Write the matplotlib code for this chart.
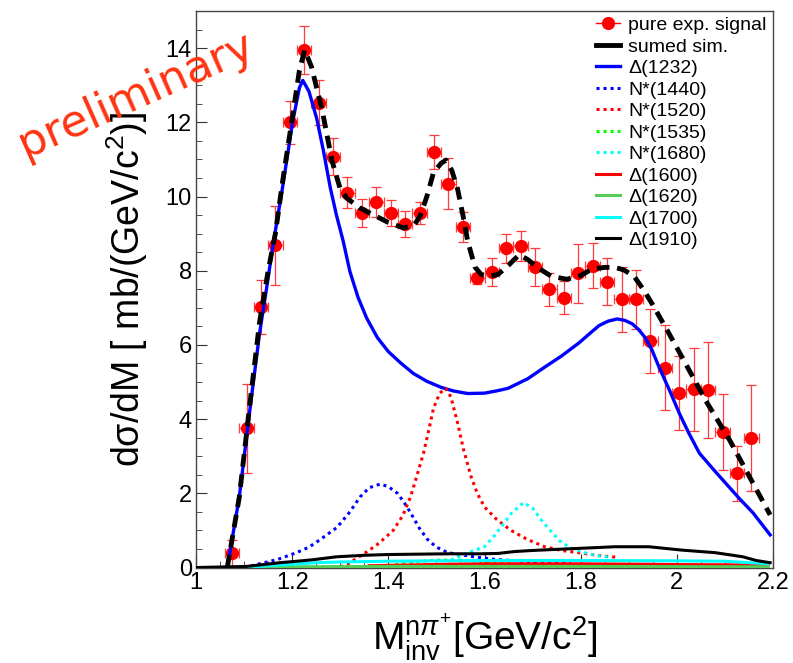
import matplotlib
matplotlib.use("Agg")
import matplotlib.pyplot as plt
from matplotlib.lines import Line2D
from matplotlib.ticker import MultipleLocator

plt.rcParams["font.family"] = ["Liberation Sans", "DejaVu Sans"]
plt.rcParams["mathtext.fontset"] = "custom"
plt.rcParams["mathtext.rm"] = "Liberation Sans"
plt.rcParams["mathtext.it"] = "Liberation Sans:italic"
plt.rcParams["mathtext.bf"] = "Liberation Sans:bold"

# measured n pi+ invariant mass spectrum (bin centres, mb/(GeV/c^2))
mass = [1.075, 1.105, 1.135, 1.165, 1.195, 1.225, 1.255, 1.285, 1.315, 1.345,
        1.375, 1.405, 1.435, 1.465, 1.495, 1.525, 1.555, 1.585, 1.615, 1.645,
        1.675, 1.705, 1.735, 1.765, 1.795, 1.825, 1.855, 1.885, 1.915, 1.945,
        1.975, 2.005, 2.035, 2.065, 2.095, 2.125, 2.155]
xsec = [0.38, 3.75, 7.02, 8.68, 12.0, 13.95, 12.53, 11.07, 10.1, 9.55,
        9.85, 9.55, 9.25, 9.55, 11.2, 10.35, 9.18, 7.8, 7.97, 8.6,
        8.66, 8.1, 7.5, 7.27, 7.93, 8.14, 7.7, 7.23, 7.23, 6.1,
        5.39, 4.7, 4.8, 4.78, 3.65, 2.54, 3.49]
xsec_err = [0.35, 1.2, 0.72, 1.06, 0.58, 0.65, 0.6, 0.5, 0.42, 0.37,
            0.4, 0.35, 0.35, 0.3, 0.45, 0.7, 0.4, 0.15, 0.38, 0.38,
            0.4, 0.5, 0.45, 0.45, 0.8, 0.6, 0.63, 0.88, 0.8, 0.87,
            1.15, 1.0, 1.12, 1.3, 1.02, 0.74, 1.44]
bin_half = 0.015

# summed simulation
sum_m = [1.065, 1.09, 1.111, 1.132, 1.15, 1.165, 1.18, 1.20, 1.215, 1.226,
         1.24, 1.262, 1.283, 1.30, 1.314, 1.34, 1.362, 1.40, 1.432, 1.455,
         1.467, 1.48, 1.494, 1.51, 1.52, 1.532, 1.544, 1.555, 1.565, 1.58,
         1.593, 1.61, 1.628, 1.65, 1.672, 1.69, 1.712, 1.739, 1.771, 1.80,
         1.823, 1.85, 1.871, 1.89, 1.911, 1.93, 1.949, 1.984, 2.018, 2.06,
         2.11, 2.158, 2.194]
sum_y = [0.0, 1.9, 4.3, 6.6, 8.0, 9.0, 10.4, 12.1, 13.4, 13.95,
         13.5, 12.35, 10.95, 10.2, 9.95, 9.7, 9.55, 9.3, 9.15, 9.25,
         9.5, 10.0, 10.65, 10.9, 10.98, 10.7, 10.2, 9.5, 8.8, 8.1,
         7.9, 7.85, 7.9, 8.15, 8.43, 8.3, 8.07, 7.85, 7.77, 7.87,
         8.04, 8.09, 8.09, 8.02, 7.85, 7.5, 7.1, 6.3, 5.5, 4.5,
         3.43, 2.28, 1.42]

# Delta(1232)
d1232_m = [1.065, 1.09, 1.111, 1.132, 1.149, 1.159, 1.18, 1.201, 1.215, 1.222,
           1.235, 1.251, 1.265, 1.279, 1.292, 1.306, 1.32, 1.337, 1.355, 1.377,
           1.40, 1.425, 1.452, 1.48, 1.509, 1.535, 1.565, 1.60, 1.625, 1.649,
           1.69, 1.725, 1.76, 1.796, 1.82, 1.838, 1.857, 1.876, 1.892, 1.907,
           1.92, 1.934, 1.948, 1.963, 1.985, 2.005, 2.025, 2.047, 2.075, 2.101,
           2.13, 2.158, 2.194]
d1232_y = [0.0, 1.9, 4.15, 6.3, 7.72, 8.6, 10.25, 12.02, 12.93, 13.13,
           12.83, 12.1, 11.23, 10.25, 9.5, 8.8, 7.98, 7.28, 6.72, 6.2,
           5.82, 5.52, 5.23, 5.02, 4.86, 4.76, 4.69, 4.7, 4.76, 4.83,
           5.09, 5.4, 5.7, 6.05, 6.32, 6.52, 6.64, 6.7, 6.66, 6.57,
           6.42, 6.2, 5.87, 5.4, 4.77, 4.16, 3.62, 3.08, 2.66, 2.28,
           1.86, 1.48, 0.88]

# N*(1440)
n1440_m = [1.10, 1.126, 1.17, 1.209, 1.235, 1.258, 1.293, 1.32, 1.341, 1.36,
           1.383, 1.40, 1.419, 1.433, 1.446, 1.465, 1.482, 1.50, 1.524, 1.572,
           1.62, 1.70, 1.78]
n1440_y = [0.0, 0.08, 0.22, 0.4, 0.55, 0.75, 1.08, 1.5, 1.9, 2.15,
           2.25, 2.18, 2.0, 1.75, 1.48, 1.05, 0.75, 0.55, 0.4, 0.3,
           0.22, 0.15, 0.1]

# N*(1520)
n1520_m = [1.30, 1.314, 1.356, 1.38, 1.41, 1.43, 1.446, 1.46, 1.473, 1.484,
           1.494, 1.507, 1.519, 1.53, 1.544, 1.556, 1.572, 1.585, 1.60, 1.625,
           1.655, 1.69, 1.725, 1.76, 1.796, 1.84, 1.88]
n1520_y = [0.02, 0.08, 0.43, 0.65, 1.0, 1.4, 1.9, 2.5, 3.08, 3.7,
           4.3, 4.7, 4.83, 4.6, 3.9, 3.2, 2.45, 2.0, 1.63, 1.3,
           1.0, 0.75, 0.56, 0.46, 0.4, 0.32, 0.27]

# N*(1535)
n1535_m = [1.40, 1.45, 1.50, 1.55, 1.60, 1.65, 1.70]
n1535_y = [0.05, 0.15, 0.2, 0.2, 0.15, 0.1, 0.05]

# N*(1680)
n1680_m = [1.53, 1.565, 1.60, 1.62, 1.635, 1.655, 1.681, 1.70, 1.718, 1.74,
           1.76, 1.785, 1.808, 1.835, 1.865]
n1680_y = [0.2, 0.4, 0.56, 0.85, 1.1, 1.45, 1.75, 1.6, 1.28, 0.95,
           0.67, 0.5, 0.4, 0.32, 0.27]

# Delta(1600)
d1600_m = [1.36, 1.45, 1.52, 1.60, 1.80, 1.93, 2.0, 2.19]
d1600_y = [0.05, 0.07, 0.09, 0.1, 0.1, 0.09, 0.08, 0.07]

# Delta(1620)
d1620_m = [1.10, 1.20, 1.40, 1.80, 2.19]
d1620_y = [0.0, 0.02, 0.03, 0.03, 0.02]

# Delta(1700)
d1700_m = [1.10, 1.15, 1.20, 1.25, 1.30, 1.40, 1.50, 1.60, 1.80, 2.00, 2.10, 2.19]
d1700_y = [0.0, 0.05, 0.09, 0.13, 0.15, 0.17, 0.18, 0.19, 0.19, 0.18, 0.17, 0.1]

# Delta(1910)
d1910_m = [1.0, 1.105, 1.14, 1.174, 1.21, 1.243, 1.293, 1.35, 1.398, 1.46,
           1.524, 1.593, 1.628, 1.662, 1.70, 1.767, 1.82, 1.871, 1.942, 2.01,
           2.08, 2.137, 2.165, 2.194]
d1910_y = [0.0, 0.03, 0.08, 0.13, 0.17, 0.21, 0.29, 0.33, 0.35, 0.36,
           0.37, 0.37, 0.38, 0.43, 0.46, 0.5, 0.53, 0.56, 0.56, 0.47,
           0.4, 0.29, 0.19, 0.13]

DOT = (0, (1, 1.3))
components = [
    ("Δ(1232)", d1232_m, d1232_y, "#0000ff", "-", 2.4),
    ("N*(1440)", n1440_m, n1440_y, "#0000ff", DOT, 2.2),
    ("N*(1520)", n1520_m, n1520_y, "#ff0000", DOT, 2.2),
    ("N*(1535)", n1535_m, n1535_y, "#00ff00", DOT, 2.2),
    ("N*(1680)", n1680_m, n1680_y, "#00ffff", DOT, 2.2),
    ("Δ(1600)", d1600_m, d1600_y, "#ff0000", "-", 2.2),
    ("Δ(1620)", d1620_m, d1620_y, "#55cc55", "-", 2.2),
    ("Δ(1700)", d1700_m, d1700_y, "#00ffff", "-", 2.2),
    ("Δ(1910)", d1910_m, d1910_y, "#000000", "-", 2.2),
]

fig = plt.figure(figsize=(7.93, 6.63), dpi=100)
ax = fig.add_axes([0.2472, 0.1440, 0.7276, 0.8394])

ax.errorbar(mass, xsec, yerr=xsec_err, xerr=bin_half, fmt="o", color="#ff0000",
            ms=8.5, ecolor="#ff3b3b", elinewidth=0.9, capsize=3.5, capthick=0.9,
            zorder=3)

# draw the small contributions first so the big ones sit on top
handles = [Line2D([], [], color="#ff0000", marker="o", ms=8.5, lw=1.0),
           Line2D([], [], color="black", lw=3.5)]
labels = ["pure exp. signal", "sumed sim."]
for name, xs, ys, col, ls, lw in components:
    ax.plot(xs, ys, color=col, ls=ls, lw=lw, zorder=4)
    handles.append(Line2D([], [], color=col, ls=ls, lw=lw))
    labels.append(name)

ax.plot(sum_m, sum_y, color="black", lw=3.5, ls=(0, (2.6, 1.6)), zorder=5)

ax.set_xlim(1.0, 2.2)
ax.set_ylim(0, 15)
ax.xaxis.set_major_locator(MultipleLocator(0.2))
ax.xaxis.set_minor_locator(MultipleLocator(0.05))
ax.yaxis.set_major_locator(MultipleLocator(2))
ax.yaxis.set_minor_locator(MultipleLocator(0.5))
ax.xaxis.set_major_formatter(plt.FuncFormatter(lambda v, p: f"{v:g}"))

ax.tick_params(axis="both", which="both", direction="in", colors="#333333",
               labelcolor="black", labelsize=17, top=False, right=False)
ax.tick_params(axis="x", which="major", length=10, pad=3.5)
ax.tick_params(axis="x", which="minor", length=5)
ax.tick_params(axis="y", which="major", length=8, pad=3)
ax.tick_params(axis="y", which="minor", length=4)
for sp in ax.spines.values():
    sp.set_color("#444444")
    sp.set_linewidth(1.0)

ax.set_ylabel("dσ/dM [ mb/(GeV/c$^{2}$)]", fontsize=27)
ax.yaxis.set_label_coords(-0.08, 0.5)
ax.set_xlabel(r"M$_{\mathrm{inv}}^{\mathrm{n}π^{+}}$[GeV/c$^{2}$]", fontsize=28)
ax.xaxis.set_label_coords(0.5, -0.08)

ax.legend(handles, labels, loc="upper left", bbox_to_anchor=(0.693, 0.99),
          frameon=False, fontsize=14, handlelength=1.25, handletextpad=0.4,
          labelspacing=0.2, borderpad=0, borderaxespad=0)

fig.text(0.172, 0.857, "preliminary", color="#ff3311", fontsize=32,
         rotation=24, ha="center", va="center", rotation_mode="anchor",
         family="DejaVu Sans", zorder=10)

fig.savefig("out.png", dpi=100)
